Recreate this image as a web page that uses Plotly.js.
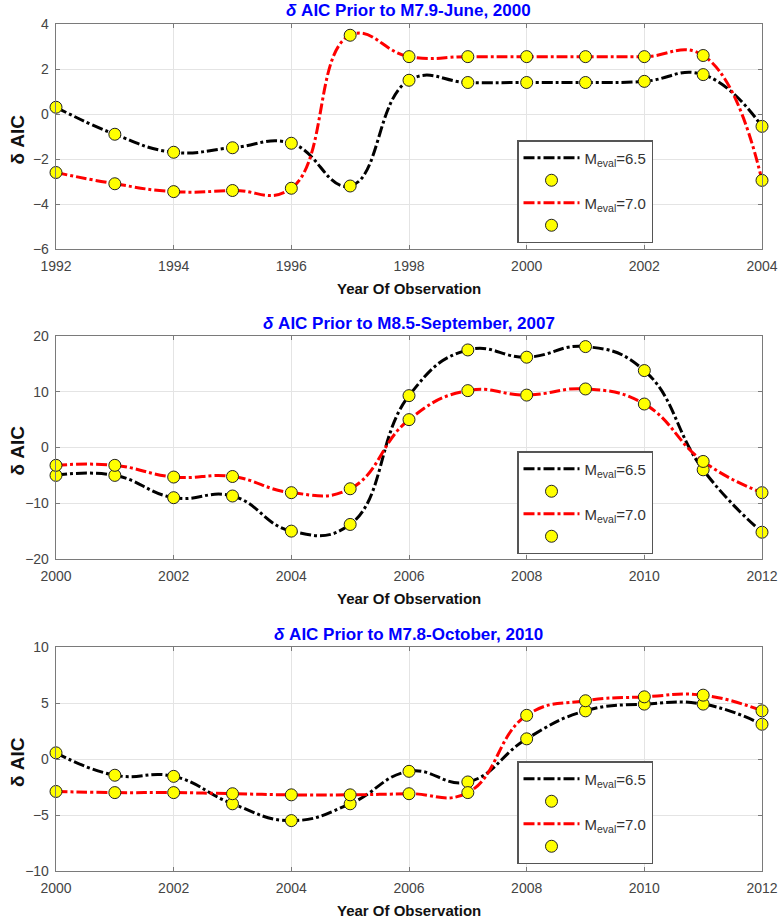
<!DOCTYPE html>
<html><head><meta charset="utf-8">
<script src="https://cdn.plot.ly/plotly-3.0.1.min.js"></script>
<style>body{margin:0;background:#fff}#chart{width:782px;height:920px}</style>
</head><body><div id="chart"></div>
<script>
// ---- data ----
const years1 = [1992,1993,1994,1995,1996,1997,1998,1999,2000,2001,2002,2003,2004];
const p1_m65 = [0.3,-0.9,-1.7,-1.5,-1.3,-3.2,1.5,1.4,1.4,1.4,1.45,1.75,-0.55];
const p1_m70 = [-2.6,-3.1,-3.45,-3.4,-3.3,3.5,2.55,2.55,2.55,2.55,2.55,2.6,-2.95];

const years2 = [2000,2001,2002,2003,2004,2005,2006,2007,2008,2009,2010,2011,2012];
const p2_m65 = [-5,-5,-9,-8.7,-15,-13.8,9.3,17.5,16.2,18.1,13.8,-4,-15.2];
const p2_m70 = [-3.2,-3.2,-5.3,-5.2,-8.1,-7.4,5,10.2,9.4,10.5,7.8,-2.5,-8.1];

const years3 = [2000,2001,2002,2003,2004,2005,2006,2007,2008,2009,2010,2011,2012];
const p3_m65 = [0.55,-1.45,-1.55,-4.0,-5.5,-4.0,-1.1,-2.05,1.8,4.3,4.9,4.9,3.1];
const p3_m70 = [-2.9,-3.0,-3.0,-3.1,-3.2,-3.2,-3.1,-3.0,3.9,5.2,5.55,5.7,4.3];

const panelTitles = [
  '<i>δ</i> AIC Prior to M7.9-June, 2000',
  '<i>δ</i> AIC Prior to M8.5-September, 2007',
  '<i>δ</i> AIC Prior to M7.8-October, 2010'
];
const seriesNames = ['M<sub>eval</sub>=6.5','M<sub>eval</sub>=7.0'];
const xLabel = 'Year Of Observation';
const yLabel = 'δ AIC';
const yRanges = [[-6,4],[-20,20],[-10,10]];
const yDticks = [2,10,5];
const xRanges = [[1992,2004],[2000,2012],[2000,2012]];

// ---- layout geometry (pixels) ----
const W = 782, H = 920;
const panelPx = [[24,249],[336,559],[647,871]];
const xPx = [56,762];
const legendTopPx = [140,451,761];
const legendLeftPx = 517;

const FONT = 'Liberation Sans, Arial, sans-serif';
const panels = [
  {x: years1, a: p1_m65, b: p1_m70},
  {x: years2, a: p2_m65, b: p2_m70},
  {x: years3, a: p3_m65, b: p3_m70}
];

const traces = [];
const layout = {
  width: W, height: H,
  margin: {l:0, r:0, t:0, b:0},
  paper_bgcolor: '#fff', plot_bgcolor: '#fff',
  showlegend: true,
  annotations: []
};

const lineDash = '11px,3px,3px,3px';
const markerStyle = {symbol:'circle', size:12, color:'#ffff00', line:{color:'#222', width:1}};

panels.forEach((p, i) => {
  const n = i === 0 ? '' : String(i+1);
  const xa = 'x' + n, ya = 'y' + n;
  const lg = 'legend' + n;
  const colors = ['#000000', '#ff0000'];
  [p.a, p.b].forEach((vals, k) => {
    traces.push({
      x: p.x, y: vals, xaxis: xa, yaxis: ya, type: 'scatter', mode: 'lines',
      name: seriesNames[k], legend: lg, legendrank: 1 + 2*k,
      line: {color: colors[k], width: 3, dash: lineDash, shape: 'spline', smoothing: 1.3},
      hoverinfo: 'skip'
    });
  });
  [p.a, p.b].forEach((vals, k) => {
    traces.push({
      x: p.x, y: vals, xaxis: xa, yaxis: ya, type: 'scatter', mode: 'markers',
      name: ' ', legend: lg, legendrank: 2 + 2*k, cliponaxis: false,
      marker: markerStyle, hoverinfo: 'skip'
    });
  });

  const top = panelPx[i][0], bot = panelPx[i][1];
  const common = {
    showline: true, linecolor: '#7a7a7a', linewidth: 1.3, mirror: 'ticks',
    ticks: 'inside', ticklen: 4, tickcolor: '#7a7a7a', tickwidth: 1,
    showgrid: true, gridcolor: '#e4e4e4', gridwidth: 1, zeroline: false,
    tickfont: {family: FONT, size: 14, color: '#444'}, fixedrange: true
  };
  layout['xaxis' + n] = Object.assign({}, common, {
    domain: [xPx[0]/W, xPx[1]/W], anchor: ya, range: xRanges[i],
    tick0: xRanges[i][0], dtick: 2, ticklabelstandoff: 4
  });
  layout['yaxis' + n] = Object.assign({}, common, {
    domain: [1 - bot/H, 1 - top/H], anchor: xa, range: yRanges[i],
    tick0: yRanges[i][0], dtick: yDticks[i], ticklabelstandoff: 3
  });
  layout[lg] = {
    x: legendLeftPx/W, y: 1 - legendTopPx[i]/H, xanchor: 'left', yanchor: 'top',
    xref: 'paper', yref: 'paper',
    bgcolor: '#ffffff', bordercolor: '#555', borderwidth: 1.5,
    font: {family: FONT, size: 15, color: '#333'},
    itemwidth: 56, tracegroupgap: 0, traceorder: 'normal'
  };
  layout.annotations.push({
    text: '<b>' + panelTitles[i] + '</b>', xref: 'paper', yref: 'paper',
    x: (xPx[0]+xPx[1])/2/W, y: 1 - (top - 13)/H, xanchor: 'center', yanchor: 'middle',
    showarrow: false, font: {family: FONT, size: 17, color: '#0000ff'}
  });
  layout.annotations.push({
    text: '<b>' + xLabel + '</b>', xref: 'paper', yref: 'paper',
    x: (xPx[0]+xPx[1])/2/W, y: 1 - (bot + 39)/H, xanchor: 'center', yanchor: 'middle',
    showarrow: false, font: {family: FONT, size: 15, color: '#111'}
  });
  layout.annotations.push({
    text: '<b>' + yLabel + '</b>', xref: 'paper', yref: 'paper', textangle: -90,
    x: 17/W, y: 1 - ((top + bot)/2 + 3)/H, xanchor: 'center', yanchor: 'middle',
    showarrow: false, font: {family: FONT, size: 19, color: '#111'}
  });
});

Plotly.newPlot('chart', traces, layout, {displayModeBar: false, staticPlot: true});
</script></body></html>
